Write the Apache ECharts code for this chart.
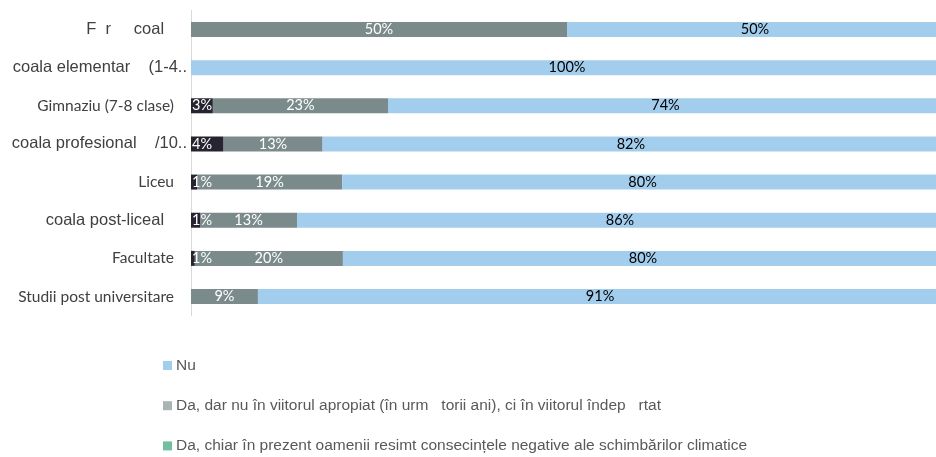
<!DOCTYPE html>
<html>
<head>
<meta charset="utf-8">
<script src="https://cdn.jsdelivr.net/npm/echarts@6/dist/echarts.min.js"></script>
<style>html,body{margin:0;padding:0;background:#fff}#c{width:936px;height:457px}</style>
</head>
<body>
<div id="c"></div>
<script>
const categories = [
  "F  r     coal     ",
  "coala elementar    (1-4..",
  "Gimnaziu (7-8 clase)",
  "coala profesional    /10..",
  "Liceu",
  "coala post-liceal     ",
  "Facultate",
  "Studii post universitare"
];
const seriesNames = [
  "Da, chiar în prezent oamenii resimt consecințele negative ale schimbărilor climatice",
  "Da, dar nu în viitorul apropiat (în urm   torii ani), ci în viitorul îndep   rtat",
  "Nu"
];
const daChiar = [0, 0, 2.9, 4.3, 0.8, 1.2, 0.5, 0];
const daDar   = [50, 0, 23.3, 13.2, 19.3, 12.9, 19.7, 8.9];
const nu      = [50, 100, 74, 82, 80, 86, 80, 91];

const bigLabels = new Set([0, 1, 3, 5]);
const barColors = ['#262431', '#7B8B8B', '#A3CDED'];
const legendColors = ['#72BFA0', '#A9B4B4', '#A3CDED'];

const chart = echarts.init(document.getElementById('c'), null, {renderer: 'canvas'});
const lbl = (color, pos, dist) => ({
  show: true,
  position: pos,
  distance: dist,
  color: color,
  fontFamily: 'Lato',
  fontSize: 14.5,
  formatter: p => p.value ? Math.round(p.value) + '%' : ''
});
const datas = [daChiar, daDar, nu];
const series = datas.map((d, i) => ({
  name: seriesNames[i],
  type: 'bar',
  stack: 'total',
  barWidth: 15,
  data: d,
  itemStyle: {color: barColors[i]},
  label: i === 0 ? lbl('#fff', 'insideLeft', 1) : lbl(i === 1 ? '#fff' : '#000', 'inside'),
  z: i === 0 ? 3 : 2
}));

chart.setOption({
  animation: false,
  grid: {left: 191, width: 752, top: 10.4, height: 305.2, containLabel: false, outerBoundsMode: 'none'},
  xAxis: {type: 'value', min: 0, max: 100, show: false},
  yAxis: {
    type: 'category',
    inverse: true,
    data: categories,
    axisTick: {show: false},
    axisLine: {show: true, lineStyle: {color: '#D9D9D9', width: 1}},
    axisLabel: {
      margin: 4,
      formatter: (v, idx) => bigLabels.has(idx) ? '{b|' + v + '}' : '{s|' + v + '}',
      rich: {
        b: {fontFamily: 'Liberation Sans', fontSize: 16.5, color: '#404040'},
        s: {fontFamily: 'Lato', fontSize: 15.5, color: '#404040', padding: [0, 13, 0, 0]}
      }
    }
  },
  legend: {
    orient: 'vertical',
    left: 163,
    top: 357.5,
    height: 99,
    padding: 0,
    itemWidth: 9,
    itemHeight: 9,
    itemGap: 24.2,
    icon: 'rect',
    textStyle: {fontFamily: 'Liberation Sans', fontSize: 15.5, lineHeight: 15, color: '#595959', padding: [0, 0, 0, -1]},
    data: [2, 1, 0].map(i => ({name: seriesNames[i], itemStyle: {color: legendColors[i]}}))
  },
  series: series
});
</script>
</body>
</html>
